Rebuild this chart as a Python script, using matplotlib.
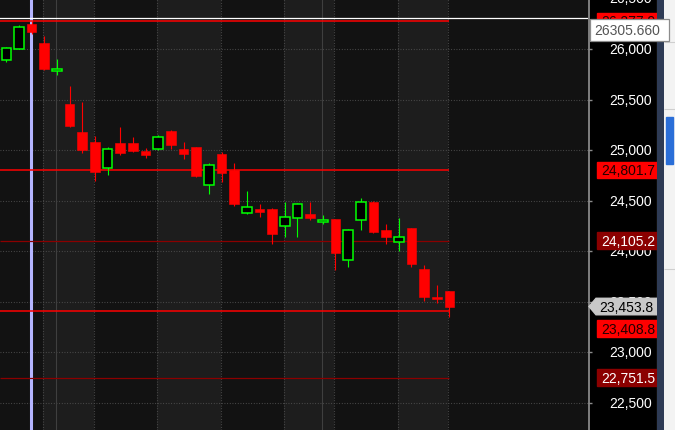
import matplotlib
matplotlib.use("Agg")
import matplotlib.pyplot as plt
import matplotlib.transforms as mtransforms
from matplotlib.patches import Rectangle, Polygon

plt.rcParams["font.family"] = ["Liberation Sans", "DejaVu Sans"]

# daily candles (index 0..35)
opens = [25894, 26003, 26247, 26059, 25782, 25456, 25179, 25080, 24823, 25071,
         25071, 24992, 25011, 25189, 25011, 25031, 24655, 24962, 24804, 24379,
         24418, 24418, 24250, 24329, 24369, 24292, 24319, 23914, 24309, 24487,
         24210, 24092, 24230, 23825, 23548, 23607]
highs = [26023, 26237, 26277, 26129, 25901, 25634, 25476, 25140, 25031, 25229,
         25130, 25021, 25150, 25199, 25080, 25031, 24873, 24982, 24873, 24596,
         24468, 24428, 24487, 24477, 24487, 24359, 24319, 24220, 24527, 24497,
         24270, 24329, 24230, 23864, 23667, 23607]
lows = [25874, 26000, 26148, 25792, 25743, 25229, 24972, 24695, 24754, 24952,
        24982, 24922, 25001, 25011, 24912, 24734, 24566, 24685, 24448, 24369,
        24339, 24072, 24141, 24141, 24309, 24270, 23815, 23845, 24210, 24181,
        24072, 24003, 23845, 23509, 23489, 23350]
closes = [26007, 26218, 26168, 25802, 25802, 25239, 25001, 24784, 25011, 24975,
          24992, 24952, 25130, 25051, 24962, 24744, 24853, 24774, 24468, 24438,
          24388, 24171, 24339, 24468, 24329, 24310, 23983, 24210, 24487, 24191,
          24141, 24141, 23874, 23548, 23528, 23453.8]

week_starts = [3, 7, 12, 17, 22, 26, 31, 35]
month_starts = [4, 25]
crosshair_idx = 2
crosshair_price = 26305.66

levels = [26277.9, 24801.7, 24105.2, 23408.8, 22751.5]
level_labels = ["26,277.9", "24,801.7", "24,105.2", "23,408.8", "22,751.5"]
level_bright = [True, True, False, True, False]
last_price = 23453.8
last_label = "23,453.8"

price_ticks = [26500, 26000, 25500, 25000, 24500, 24000, 23500, 23000, 22500]
tick_labels = ["26,500", "26,000", "25,500", "25,000", "24,500", "24,000",
               "23,500", "23,000", "22,500"]

Y_TOP, Y_BOT = 26494.4, 22233.0
PPX = (Y_TOP - Y_BOT) / 431.0   # price per pixel

BG_DARK = "#121212"
BG_LIGHT = "#1d1d1d"
GRID = "#4e4e4e"
RED = "#ff0000"
DARK_RED = "#8b0000"
GREEN = "#00ff00"

fig = plt.figure(figsize=(6.75, 4.31), dpi=100)
fig.patch.set_facecolor("black")

ax = fig.add_axes([0, 0, 588 / 675, 1])
ax.set_facecolor(BG_DARK)
ax.set_xlim(-0.5, 45.95)
ax.set_ylim(Y_BOT, Y_TOP)
ax.set_xticks([])
ax.set_yticks([])
for s in ax.spines.values():
    s.set_visible(False)

# alternating week shading
shift = 0.08
for k in range(0, len(week_starts) - 1, 2):
    ax.axvspan(week_starts[k] - shift, week_starts[k + 1] - shift,
               color=BG_LIGHT, lw=0, zorder=0)

# dotted grid
for p in price_ticks:
    ax.axhline(p, color=GRID, lw=0.8, ls=(0, (0.8, 1.6)), zorder=1)
for w in week_starts:
    ax.axvline(w - shift, color=GRID, lw=0.8, ls=(0, (0.8, 1.6)), zorder=1)
for m in month_starts:
    ax.axvline(m - shift, color="#3f3f3f", lw=0.8, zorder=1)

# crosshair
ax.axvline(crosshair_idx - shift, color="#b4b4ff", lw=2.2, zorder=2)
ax.axhline(crosshair_price, color="white", lw=0.9, zorder=6)

# level lines up to the last candle
last_idx = len(closes) - 1
for lv, bright in zip(levels, level_bright):
    ax.hlines(lv, -0.5, last_idx, color=RED if bright else DARK_RED,
              lw=1.1 if bright else 0.9, zorder=3)

# candles
for i, (o, h, l, c) in enumerate(zip(opens, highs, lows, closes)):
    up = c >= o
    col = GREEN if up else RED
    ax.vlines(i, l, h, color=col, lw=0.8, zorder=4)
    ax.bar(i, abs(c - o), bottom=min(o, c), width=0.76,
           color="black" if up else RED, edgecolor=col,
           linewidth=1.1 if up else 0.4, zorder=5)

# right-hand decorations (strip + light panel)
ax_nav = fig.add_axes([657 / 675, 0, 8 / 675, 1])
ax_nav.set_facecolor("#2e3b55")
ax_nav.set_axis_off()
ax_nav.add_patch(Rectangle((0, 0), 1, 1, transform=ax_nav.transAxes,
                           color="#2e3b55"))

ax_lt = fig.add_axes([664 / 675, 0, 11 / 675, 1])
ax_lt.set_xlim(664, 675)
ax_lt.set_ylim(431, 0)
ax_lt.set_axis_off()
ax_lt.add_patch(Rectangle((664, 0), 11, 431, color="#f3f3f3"))
ax_lt.hlines([43, 110, 270], 664, 675, color="#cfcfcf", lw=0.8)
ax_lt.add_patch(Rectangle((666, 118), 7, 47, color="#2a6ed8"))

# price axis
ax2 = fig.add_axes([588 / 675, 0, 69 / 675, 1])
ax2.set_facecolor("black")
ax2.set_xlim(588, 657)
ax2.set_ylim(Y_BOT, Y_TOP)
ax2.set_xticks([])
ax2.set_yticks([])
for s in ax2.spines.values():
    s.set_visible(False)
ax2.axvline(588.8, color="#8a8a8a", lw=1.3)
ax2.axvline(656.6, color="#e8d8a8", lw=0.8)
ax2.hlines(price_ticks, 588, 592, color="#8a8a8a", lw=1.0)
for p, t in zip(price_ticks, tick_labels):
    ax2.text(652, p, t, color="white", fontsize=10, ha="right", va="center",
             clip_on=True, zorder=2)

box_h = 16.5 * PPX
down = mtransforms.offset_copy(ax2.transData, fig=fig, y=-17.5, units="dots")
for lv, lab, bright in zip(levels, level_labels, level_bright):
    tr = down if lv == 23408.8 else ax2.transData
    ax2.add_patch(Rectangle((597, lv - box_h / 2), 60, box_h, transform=tr,
                            color=RED if bright else DARK_RED, zorder=3))
    ax2.text(601, lv, lab, transform=tr, fontsize=10, ha="left", va="center",
             color="#220000" if bright else "white", clip_on=True, zorder=4)

# current price marker
ax2.add_patch(Polygon([(589, last_price), (596, last_price + box_h / 2),
                       (657, last_price + box_h / 2), (657, last_price - box_h / 2),
                       (596, last_price - box_h / 2)],
                      closed=True, color="#c8c8c8", zorder=5))
ax2.text(599, last_price, last_label, fontsize=10, ha="left", va="center",
         color="black", clip_on=True, zorder=6)

# crosshair price box
top = crosshair_price - 0.5 * PPX
ax2.add_patch(Rectangle((589.5, top - 22 * PPX), 79, 22 * PPX, facecolor="white",
                        edgecolor="#8c8c8c", lw=0.9, clip_on=False, zorder=8))
ax2.text(594, top - 11.5 * PPX, "26305.660", fontsize=10, ha="left", va="center",
         color="#555555", clip_on=False, zorder=9)

fig.savefig("out.png", dpi=100, facecolor=fig.get_facecolor())
